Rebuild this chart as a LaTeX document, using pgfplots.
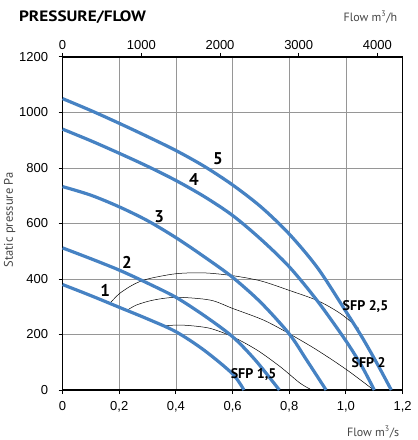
\documentclass[border=0pt]{standalone}
\usepackage{pgfplots}
\pgfplotsset{compat=1.18}
\usepackage{fontspec}
\setmainfont{PT Sans}
\newfontfamily\ticksfont{Liberation Sans}
\definecolor{fanblue}{RGB}{70,130,195}
\definecolor{gridgray}{RGB}{150,150,150}
\definecolor{labgray}{RGB}{70,70,70}

\pgfplotstableread{
f p
0 1050
0.1 1007
0.2 961
0.3 913
0.4 863
0.5 806
0.6 739
0.7 660
0.8 562
0.9 440
1.0 283
1.06 185
1.116 84
1.16 0
}\curvefive
\pgfplotstableread{
f p
0 940
0.1 898
0.2 853
0.3 806
0.4 755
0.5 697
0.6 629
0.7 543
0.8 444
0.9 320
1.0 177
1.057 84
1.1 0
}\curvefour
\pgfplotstableread{
f p
0 733
0.1 702
0.2 660
0.3 610
0.4 549
0.5 480
0.6 406
0.7 315
0.8 202
0.86 110
0.93 0
}\curvethree
\pgfplotstableread{
f p
0 512
0.1 473
0.2 432
0.3 385
0.4 334
0.5 268
0.6 192
0.68 108
0.765 0
}\curvetwo
\pgfplotstableread{
f p
0 380
0.1 340
0.2 298
0.3 256
0.4 210
0.5 143
0.6 58
0.64 0
}\curveone
\pgfplotstableread{
f p
0.165 310
0.2 347
0.25 380
0.3 400
0.4 419
0.5 422
0.6 412
0.7 393
0.8 359
0.9 322
0.98 276
1.045 222
}\sfpa
\pgfplotstableread{
f p
0.226 286
0.26 306
0.32 324
0.403 334
0.521 324
0.6 294
0.709 252
0.798 204
0.898 144
1.004 72
1.098 0
}\sfpb
\pgfplotstableread{
f p
0.356 231
0.403 234
0.45 232
0.521 222
0.6 192
0.686 144
0.768 84
0.839 24
0.88 0
}\sfpc

\begin{document}
\begin{tikzpicture}
\begin{axis}[
  scale only axis, width=340pt, height=333pt,
  xmin=0, xmax=1.2, ymin=0, ymax=1200,
  xtick={0,0.2,0.4,0.6,0.8,1.0,1.2},
  xticklabels={0,{0,2},{0,4},{0,6},{0,8},{1,0},{1,2}},
  ytick={0,200,400,600,800,1000,1200},
  yticklabels={0,200,400,600,800,1000,1200},
  grid=major, major grid style={gridgray, line width=0.8pt},
  axis line style={line width=1.6pt},
  tick style={black, line width=1pt},
  tick align=outside, major tick length=4pt,
  xtick pos=bottom, ytick pos=left,
  ticklabel style={font=\ticksfont\fontsize{13}{13}\selectfont},
  xticklabel style={yshift=-4pt},
  yticklabel style={xshift=-7pt},
  clip=false,
]
\addplot[black, line width=0.5pt, smooth] table {\sfpa};
\addplot[black, line width=0.5pt, smooth] table {\sfpb};
\addplot[black, line width=0.5pt, smooth] table {\sfpc};
\addplot[fanblue, line width=3.2pt, smooth] table {\curveone};
\addplot[fanblue, line width=3.2pt, smooth] table {\curvetwo};
\addplot[fanblue, line width=3.2pt, smooth] table {\curvethree};
\addplot[fanblue, line width=3.2pt, smooth] table {\curvefour};
\addplot[fanblue, line width=3.2pt, smooth] table {\curvefive};
\begin{scope}[font=\bfseries\fontsize{17}{17}\selectfont]
\node at (axis cs:0.150,358) {1};
\node at (axis cs:0.227,459) {2};
\node at (axis cs:0.341,623) {3};
\node at (axis cs:0.464,760) {4};
\node at (axis cs:0.548,835) {5};
\end{scope}
\begin{scope}[font=\bfseries\fontsize{14}{14}\selectfont]
\node at (axis cs:1.069,300) {SFP 2,5};
\node at (axis cs:1.080,98) {SFP 2};
\node at (axis cs:0.674,54) {SFP 1,5};
\end{scope}
\end{axis}
\begin{axis}[
  scale only axis, width=340pt, height=333pt,
  xmin=0, xmax=4320, ymin=0, ymax=1200,
  axis x line*=top, hide y axis,
  axis line style={-, line width=1.6pt},
  xtick={0,1000,2000,3000,4000},
  xticklabels={0,1000,2000,3000,4000},
  tick style={black, line width=1pt},
  tick align=outside, major tick length=4pt,
  ticklabel style={font=\ticksfont\fontsize{13}{13}\selectfont},
]
\end{axis}
\node[anchor=west, font=\bfseries\fontsize{15}{15}\selectfont] at (-47pt,373pt) {\scalebox{1.15}[1]{PRESSURE/FLOW}};
\node[anchor=east, text=labgray, font=\fontsize{12}{12}\selectfont] at (338pt,373pt) {Flow m\textsuperscript{3}/h};
\node[anchor=east, text=labgray, font=\fontsize{12}{12}\selectfont] at (340pt,-42pt) {Flow m\textsuperscript{3}/s};
\node[rotate=90, text=labgray, font=\fontsize{12.5}{12.5}\selectfont] at (-53pt,170pt) {Static pressure Pa};
\pgfresetboundingbox
\path (-62.6pt,-50pt) rectangle (355.4pt,390pt);
\end{tikzpicture}
\end{document}
